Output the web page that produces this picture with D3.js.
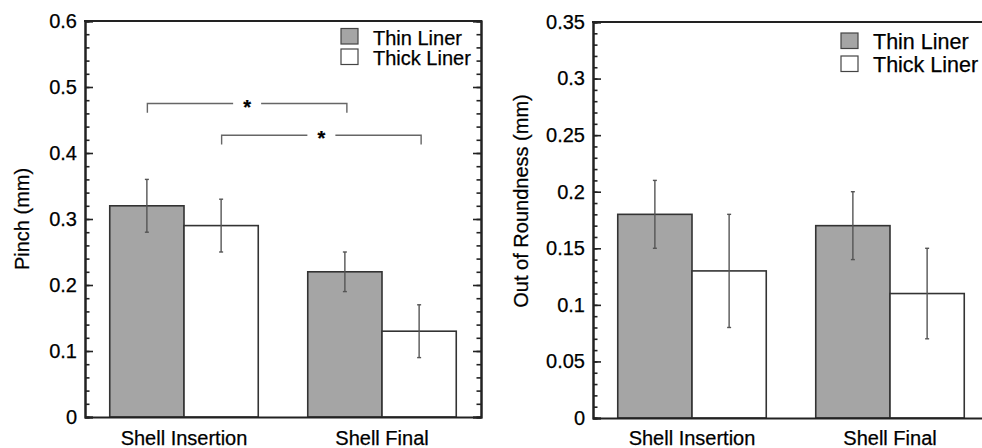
<!DOCTYPE html>
<html>
<head>
<meta charset="utf-8">
<script src="https://cdn.jsdelivr.net/npm/d3@7"></script>
<style>
  html, body { margin: 0; padding: 0; background: #fff; }
  svg { display: block; font-family: "Liberation Sans", Arial, Helvetica, sans-serif; }
  svg text { fill: #000; stroke: #000; stroke-width: 0.25px; }
</style>
</head>
<body>
<div id="chart"></div>
<script>
// data
const categories = ['Shell Insertion', 'Shell Final'];
const seriesNames = ['Thin Liner', 'Thick Liner'];

const pinchMean = [[0.32, 0.22], [0.29, 0.13]];   // [series][category]
const pinchErr  = [[0.04, 0.03], [0.04, 0.04]];
const roundMean = [[0.18, 0.17], [0.13, 0.11]];
const roundErr  = [[0.03, 0.03], [0.05, 0.04]];

const pinchTicks = [0, 0.1, 0.2, 0.3, 0.4, 0.5, 0.6];
const roundTicks = [0, 0.05, 0.1, 0.15, 0.2, 0.25, 0.3, 0.35];

// significance brackets on pinch: [series, bracket level, drop]
const pinchSig = [[0, 0.475, 0.014], [1, 0.427, 0.014]];

const W = 982, H = 448;
const fills = ['#a5a5a5', '#ffffff'];

const svg = d3.select('#chart').append('svg')
    .attr('width', W)
    .attr('height', H)
    .attr('viewBox', [0, 0, W, H]);

function fmt(d) { return String(+d.toFixed(2)); }

function drawPanel(opt) {
    const { x0, x1, y0, y1, domain, ticks, minorStep, means, errs, label, labelX, labelY, legend, rightTicks } = opt;

    const x = d3.scaleBand().domain(categories).range([x0, x1]).paddingInner(0.25).paddingOuter(0.125);
    const xs = d3.scaleBand().domain(seriesNames).range([0, x.bandwidth()]);
    const y = d3.scaleLinear().domain(domain).range([y1, y0]);

    const minor = d3.range(domain[0], domain[1] + 1e-9, minorStep).map(v => +v.toFixed(3));

    const g = svg.append('g');

    // bars
    seriesNames.forEach((s, si) => {
        categories.forEach((c, ci) => {
            g.append('rect')
                .attr('x', x(c) + xs(s))
                .attr('y', y(means[si][ci]))
                .attr('width', xs.bandwidth())
                .attr('height', y(0) - y(means[si][ci]))
                .attr('fill', fills[si])
                .attr('stroke', '#333')
                .attr('stroke-width', 1.6);
        });
    });

    // error bars
    seriesNames.forEach((s, si) => {
        categories.forEach((c, ci) => {
            const cx = x(c) + xs(s) + xs.bandwidth() / 2;
            const lo = y(means[si][ci] - errs[si][ci]);
            const hi = y(means[si][ci] + errs[si][ci]);
            const eg = g.append('g').attr('stroke', '#555').attr('stroke-width', 1.4);
            eg.append('line').attr('x1', cx).attr('x2', cx).attr('y1', lo).attr('y2', hi);
            eg.append('line').attr('x1', cx - 2).attr('x2', cx + 2).attr('y1', lo).attr('y2', lo);
            eg.append('line').attr('x1', cx - 2).attr('x2', cx + 2).attr('y1', hi).attr('y2', hi);
        });
    });

    // frame and axes
    const axisStyle = sel => sel
        .call(a => a.selectAll('.domain').attr('stroke', '#222').attr('stroke-width', 2))
        .call(a => a.selectAll('.tick line').attr('stroke', '#222').attr('stroke-width', 1.6));

    g.append('g')
        .attr('transform', `translate(${x0},0)`)
        .call(d3.axisLeft(y).tickValues(minor).tickSize(-4.5).tickFormat(''))
        .call(axisStyle);
    g.append('g')
        .attr('transform', `translate(${x0},0)`)
        .call(d3.axisLeft(y).tickValues(ticks).tickSize(-8).tickPadding(8).tickFormat(fmt))
        .call(axisStyle)
        .call(a => a.selectAll('.tick text')
            .attr('x', -8)
            .style('font-size', '20px'));

    if (rightTicks) {
        g.append('g')
            .attr('transform', `translate(${x1},0)`)
            .call(d3.axisRight(y).tickValues(minor).tickSize(-4.5).tickFormat(''))
            .call(axisStyle);
        g.append('g')
            .attr('transform', `translate(${x1},0)`)
            .call(d3.axisRight(y).tickValues(ticks).tickSize(-8).tickFormat(''))
            .call(axisStyle);
    }

    g.append('g')
        .attr('transform', `translate(0,${y1})`)
        .call(d3.axisBottom(x).tickSize(0).tickSizeOuter(0))
        .call(axisStyle)
        .call(a => a.selectAll('.tick text')
            .attr('y', 445 - y1)
            .attr('dy', 0)
            .style('font-size', '20px'));

    g.append('line')
        .attr('x1', x0 - 1).attr('x2', x1 + 1)
        .attr('y1', y0).attr('y2', y0)
        .attr('stroke', '#222').attr('stroke-width', 2);

    // y title
    g.append('text')
        .attr('transform', `translate(${labelX},${labelY}) rotate(-90)`)
        .attr('text-anchor', 'middle')
        .style('font-size', '20px')
        .text(label);

    // legend
    seriesNames.forEach((s, si) => {
        const ly = legend.y + si * legend.gap;
        g.append('rect')
            .attr('x', legend.x).attr('y', ly)
            .attr('width', legend.box).attr('height', legend.box - 1.5)
            .attr('fill', fills[si])
            .attr('stroke', '#444').attr('stroke-width', 1.2);
        g.append('text')
            .attr('x', legend.x + legend.box + legend.pad)
            .attr('y', ly + legend.box - 1)
            .style('font-size', legend.font + 'px')
            .text(s);
    });

    return { x, xs, y, g };
}

const left = drawPanel({
    x0: 85, x1: 481, y0: 21, y1: 417,
    domain: [0, 0.6], ticks: pinchTicks, minorStep: 0.02,
    means: pinchMean, errs: pinchErr,
    label: 'Pinch (mm)', labelX: 29, labelY: 219,
    legend: { x: 341, y: 28.5, gap: 20.5, box: 17, pad: 15, font: 20 },
    rightTicks: true
});

// significance brackets
pinchSig.forEach(([si, level, drop]) => {
    const { x, xs, y, g } = left;
    const xa = x(categories[0]) + xs(seriesNames[si]) + xs.bandwidth() / 2 + 0.5;
    const xb = x(categories[1]) + xs(seriesNames[si]) + xs.bandwidth() / 2 + 2;
    const xm = (xa + xb) / 2;
    const gap = 14;
    const bg = g.append('g').attr('stroke', '#666').attr('stroke-width', 1.4).attr('fill', 'none');
    bg.append('path').attr('d', `M${xa},${y(level - drop)}V${y(level)}H${xm - gap}`);
    bg.append('path').attr('d', `M${xm + gap},${y(level)}H${xb}V${y(level - drop)}`);
    g.append('text')
        .attr('x', xm)
        .attr('y', y(level) + 10)
        .attr('text-anchor', 'middle')
        .style('font-size', '20px')
        .style('font-weight', 'bold')
        .text('*');
});

drawPanel({
    x0: 593, x1: 989, y0: 22, y1: 418,
    domain: [0, 0.35], ticks: roundTicks, minorStep: 0.01,
    means: roundMean, errs: roundErr,
    label: 'Out of Roundness (mm)', labelX: 528, labelY: 201,
    legend: { x: 841, y: 33, gap: 23, box: 17, pad: 15, font: 21.5 },
    rightTicks: false
});
</script>
</body>
</html>
